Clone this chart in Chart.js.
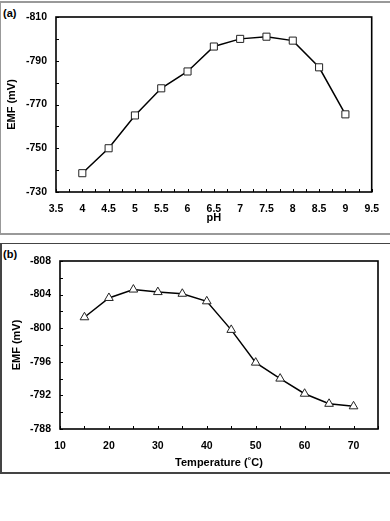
<!DOCTYPE html>
<html>
<head>
<meta charset="utf-8">
<script src="https://cdn.jsdelivr.net/npm/chart.js@4/dist/chart.umd.min.js"></script>
<style>
  body { margin: 0; background: #fff; width: 390px; height: 521px; overflow: hidden; position: relative; font-family: "Liberation Sans", Arial, sans-serif; }
  .frame { position: absolute; left: 0; width: 400px; box-sizing: border-box; }
  #frameA { top: 1px; height: 234px; border: 1px solid #999; border-width: 2px 0 2px 1px; }
  #frameB { top: 243px; height: 231px; border: 1px solid #444; border-width: 1px 0 2px 2px; }
  .tag { position: absolute; left: 3px; font-weight: bold; font-size: 11px; }
  canvas { position: absolute; left: 0; }
</style>
</head>
<body>
<div class="frame" id="frameA"></div>
<div class="frame" id="frameB"></div>
<div class="tag" style="top:7px">(a)</div>
<div class="tag" style="top:248px">(b)</div>
<canvas id="chartA" width="390" height="232" style="top:0"></canvas>
<canvas id="chartB" width="390" height="240" style="top:240px"></canvas>
<script>
// panel (a): EMF vs pH
const phValues = [4, 4.5, 5, 5.5, 6, 6.5, 7, 7.5, 8, 8.5, 9];
const emfByPH = [-738.6, -750, -765, -777.4, -785.1, -796.5, -800, -801, -799.2, -787, -765.5];
const phLabels = [3.5, 4, 4.5, 5, 5.5, 6, 6.5, 7, 7.5, 8, 8.5, 9, 9.5];
const emfLabelsA = [-810, -790, -770, -750, -730];

// panel (b): EMF vs temperature
const tempValues = [15, 20, 25, 30, 35, 40, 45, 50, 55, 60, 65, 70];
const emfByTemp = [-801.3, -803.6, -804.6, -804.3, -804.1, -803.2, -799.8, -795.9, -794.0, -792.2, -791.0, -790.7];
const tempLabels = [10, 20, 30, 40, 50, 60, 70];
const emfLabelsB = [-808, -804, -800, -796, -792, -788];

const fontFam = "'Liberation Sans', Arial, sans-serif";

// inward tick marks + closed plot box
const boxTicks = {
  id: 'boxTicks',
  afterDraw(chart) {
    const { ctx, chartArea: a, scales } = chart;
    ctx.save();
    ctx.strokeStyle = '#000';
    ctx.lineWidth = 1;
    scales.x.ticks.forEach(t => {
      const px = Math.round(scales.x.getPixelForValue(t.value)) + 0.5;
      ctx.beginPath();
      ctx.moveTo(px, a.bottom);
      ctx.lineTo(px, a.bottom - 3);
      ctx.stroke();
    });
    scales.y.ticks.forEach(t => {
      const py = Math.round(scales.y.getPixelForValue(t.value)) + 0.5;
      ctx.beginPath();
      ctx.moveTo(a.left, py);
      ctx.lineTo(a.left + 3, py);
      ctx.stroke();
    });
    ctx.lineWidth = 1.6;
    ctx.strokeRect(a.left, a.top, a.right - a.left, a.bottom - a.top);
    ctx.restore();
  }
};

const inList = (list, v) => list.some(x => Math.abs(x - v) < 1e-6);

function makeChart(id, xs, ys, cfg) {
  const points = xs.map((x, i) => ({ x: x, y: ys[i] }));
  return new Chart(document.getElementById(id), {
    type: 'line',
    data: {
      datasets: [{
        data: points,
        borderColor: '#000',
        borderWidth: 1.5,
        tension: 0,
        pointStyle: cfg.marker,
        pointRadius: 5,
        pointBackgroundColor: '#fff',
        pointBorderColor: '#222',
        pointBorderWidth: 1,
      }],
    },
    options: {
      responsive: false,
      animation: false,
      layout: { padding: { left: 0, top: cfg.top, right: cfg.right, bottom: 0 } },
      plugins: { legend: { display: false }, tooltip: { enabled: false } },
      scales: {
        x: {
          type: 'linear',
          min: cfg.xMin,
          max: cfg.xMax,
          grid: { display: false, drawTicks: false },
          border: { display: false },
          afterFit: s => { s.height = cfg.xHeight; },
          ticks: {
            stepSize: cfg.xStep,
            autoSkip: false,
            maxRotation: 0,
            padding: cfg.xPad,
            color: '#000',
            font: { family: fontFam, size: 10.5, weight: 'bold' },
            callback: v => inList(cfg.xLabels, v) ? String(Math.round(v * 10) / 10) : '',
          },
          title: {
            display: true,
            text: cfg.xTitle,
            color: '#000',
            padding: { top: 0, bottom: cfg.xTitlePad },
            font: { family: fontFam, size: 11, weight: 'bold' },
          },
        },
        y: {
          type: 'linear',
          reverse: true,
          min: cfg.yMin,
          max: cfg.yMax,
          grid: { display: false, drawTicks: false },
          border: { display: false },
          afterFit: s => { s.width = cfg.yWidth; },
          ticks: {
            stepSize: cfg.yStep,
            autoSkip: false,
            padding: cfg.yPad,
            color: '#000',
            font: { family: fontFam, size: 10.5, weight: 'bold' },
            callback: v => inList(cfg.yLabels, v) ? String(v) : '',
          },
          title: {
            display: true,
            text: 'EMF (mV)',
            color: '#000',
            padding: { top: cfg.yTitlePad, bottom: 0 },
            font: { family: fontFam, size: 11, weight: 'bold' },
          },
        },
      },
    },
    plugins: [boxTicks],
  });
}

makeChart('chartA', phValues, emfByPH, {
  marker: 'rect', top: 17, right: 16, xHeight: 40, yWidth: 56,
  xMin: 3.5, xMax: 9.5, xStep: 0.25, xLabels: phLabels, xPad: 11, xTitle: 'pH', xTitlePad: 7,
  yMin: -810, yMax: -730, yStep: 10, yLabels: emfLabelsA, yPad: 9, yTitlePad: 5,
});

makeChart('chartB', tempValues, emfByTemp, {
  marker: 'triangle', top: 21, right: 12, xHeight: 51, yWidth: 60,
  xMin: 10, xMax: 75, xStep: 5, xLabels: tempLabels, xPad: 11, xTitle: 'Temperature (˚C)', xTitlePad: 10,
  yMin: -808, yMax: -788, yStep: 2, yLabels: emfLabelsB, yPad: 9, yTitlePad: 10,
});
</script>
</body>
</html>
